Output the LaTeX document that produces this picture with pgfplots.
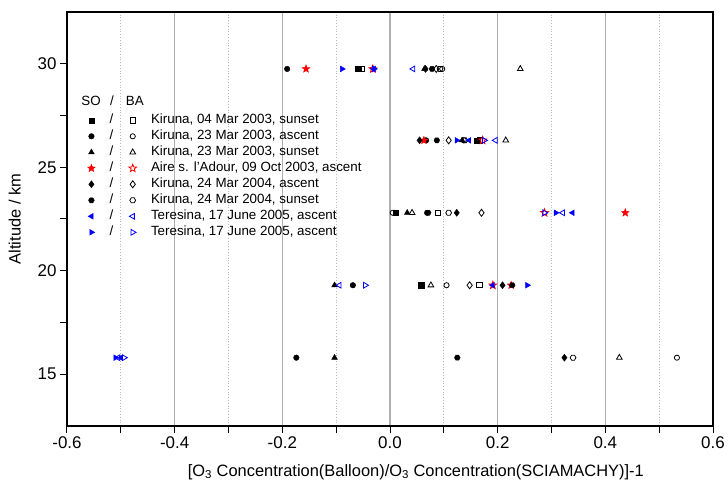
\documentclass[border=0pt]{standalone}
\usepackage{fontspec}
\setmainfont{Liberation Sans}
\usepackage{pgfplots}
\pgfplotsset{compat=1.18}
\usetikzlibrary{plotmarks}

\pgfdeclareplotmark{hexagon*}{%
  \pgfpathmoveto{\pgfpointpolar{0}{\pgfplotmarksize}}%
  \pgfpathlineto{\pgfpointpolar{60}{\pgfplotmarksize}}%
  \pgfpathlineto{\pgfpointpolar{120}{\pgfplotmarksize}}%
  \pgfpathlineto{\pgfpointpolar{180}{\pgfplotmarksize}}%
  \pgfpathlineto{\pgfpointpolar{240}{\pgfplotmarksize}}%
  \pgfpathlineto{\pgfpointpolar{300}{\pgfplotmarksize}}%
  \pgfpathclose\pgfusepathqfillstroke}
\pgfdeclareplotmark{hexagon}{%
  \pgfpathmoveto{\pgfpointpolar{0}{\pgfplotmarksize}}%
  \pgfpathlineto{\pgfpointpolar{60}{\pgfplotmarksize}}%
  \pgfpathlineto{\pgfpointpolar{120}{\pgfplotmarksize}}%
  \pgfpathlineto{\pgfpointpolar{180}{\pgfplotmarksize}}%
  \pgfpathlineto{\pgfpointpolar{240}{\pgfplotmarksize}}%
  \pgfpathlineto{\pgfpointpolar{300}{\pgfplotmarksize}}%
  \pgfpathclose\pgfusepathqstroke}
\newcommand{\starpath}{%
  \pgfpathmoveto{\pgfpointpolar{90}{\pgfplotmarksize}}%
  \pgfpathlineto{\pgfpointpolar{126}{0.42\pgfplotmarksize}}%
  \pgfpathlineto{\pgfpointpolar{162}{\pgfplotmarksize}}%
  \pgfpathlineto{\pgfpointpolar{198}{0.42\pgfplotmarksize}}%
  \pgfpathlineto{\pgfpointpolar{234}{\pgfplotmarksize}}%
  \pgfpathlineto{\pgfpointpolar{270}{0.42\pgfplotmarksize}}%
  \pgfpathlineto{\pgfpointpolar{306}{\pgfplotmarksize}}%
  \pgfpathlineto{\pgfpointpolar{342}{0.42\pgfplotmarksize}}%
  \pgfpathlineto{\pgfpointpolar{18}{\pgfplotmarksize}}%
  \pgfpathlineto{\pgfpointpolar{54}{0.42\pgfplotmarksize}}%
  \pgfpathclose}
\pgfdeclareplotmark{fstar}{\starpath\pgfusepathqfillstroke}
\pgfdeclareplotmark{ostar}{\starpath\pgfusepathqstroke}

\definecolor{majgrid}{RGB}{175,175,175}
\definecolor{mingrid}{RGB}{185,185,185}

\begin{document}
\begin{tikzpicture}
\begin{axis}[
  scale only axis, width=646bp, height=414bp,
  xmin=-0.6, xmax=0.6, ymin=12.5, ymax=32.5,
  xtick={-0.6,-0.4,-0.2,0,0.2,0.4,0.6},
  xticklabels={-0.6,-0.4,-0.2,0.0,0.2,0.4,0.6},
  minor xtick={-0.5,-0.3,-0.1,0.1,0.3,0.5},
  ytick={15,20,25,30}, minor ytick={17.5,22.5,27.5},
  /pgf/number format/assume math mode=true,
  tick align=outside, xtick pos=bottom, ytick pos=left,
  major tick length=7bp, minor tick length=7bp,
  tick style={black, line width=1bp},
  axis line style={line width=1.3bp},
  xmajorgrids, xminorgrids,
  major grid style={majgrid, line width=1.2bp},
  minor grid style={mingrid, line width=0.8bp, dotted},
  ticklabel style={font=\fontsize{17}{19}\selectfont},
  xlabel={[O\textsubscript{3} Concentration(Balloon)/O\textsubscript{3} Concentration(SCIAMACHY)]-1},
  ylabel={Altitude / km},
  label style={font=\fontsize{16.5}{18}\selectfont},
  xlabel style={at={(axis description cs:0.54,0)}, anchor=center, yshift=-46bp},
  ylabel style={at={(axis description cs:-0.081,0.5)}, anchor=center},
  legend columns=2,
  legend cell align=left,
  legend style={at={(0.027,0.763)}, anchor=north west, draw=none, fill=none,
    font=\fontsize{13.4}{15}\selectfont, row sep=0bp,
    nodes={inner sep=1.5bp, text height=10bp, text depth=3bp},
    /tikz/every odd column/.append style={column sep=13bp},
    /tikz/every even column/.append style={column sep=14bp}},
  only marks,
]
% Kiruna 04 Mar 2003 sunset
\addplot[black, mark=square*, mark size=2.6bp] coordinates {(-0.059,29.75) (0.162,26.3) (0.010,22.8) (0.058,19.3)};
\addlegendentry{/}
\addplot[black, mark=square, mark size=2.6bp, mark options={line width=0.8bp}] coordinates {(-0.052,29.75) (0.167,26.3) (0.089,22.8) (0.166,19.3)};
\addlegendentry{Kiruna, 04 Mar 2003, sunset}
% Kiruna 23 Mar 2003 ascent
\addplot[black, mark=*, mark size=2.8bp] coordinates {(-0.191,29.75) (0.067,26.3) (0.069,22.8) (-0.069,19.3) (-0.174,15.8)};
\addlegendentry{/}
\addplot[black, mark=o, mark size=2.6bp, mark options={line width=0.8bp}] coordinates {(0.097,29.75) (0.137,26.3) (0.005,22.8) (0.105,19.3) (0.533,15.8)};
\addlegendentry{Kiruna, 23 Mar 2003, ascent}
% Kiruna 23 Mar 2003 sunset
\addplot[black, mark=triangle*, mark size=3.3bp] coordinates {(0.064,29.75) (0.134,26.3) (0.032,22.8) (-0.103,19.3) (-0.103,15.8)};
\addlegendentry{/}
\addplot[black, mark=triangle, mark size=3.3bp, mark options={line width=0.8bp}] coordinates {(0.242,29.75) (0.215,26.3) (0.041,22.8) (0.076,19.3) (0.426,15.8)};
\addlegendentry{Kiruna, 23 Mar 2003, sunset}
% Aire
\addplot[red, mark=fstar, mark size=4bp, mark options={line width=0.5bp}] coordinates {(-0.156,29.75) (0.063,26.3) (0.437,22.8) (0.225,19.3)};
\addlegendentry{/}
\addplot[red, mark=ostar, mark size=4bp, mark options={line width=0.8bp}] coordinates {(-0.032,29.75) (0.172,26.3) (0.287,22.8) (0.191,19.3)};
\addlegendentry{Aire s. l'Adour, 09 Oct 2003, ascent}
% Kiruna 24 Mar 2004 ascent
\addplot[black, mark=diamond*, mark size=3.5bp] coordinates {(0.066,29.75) (0.055,26.3) (0.124,22.8) (0.209,19.3) (0.324,15.8)};
\addlegendentry{/}
\addplot[black, mark=diamond, mark size=3.5bp, mark options={line width=0.8bp}] coordinates {(0.086,29.75) (0.109,26.3) (0.170,22.8) (0.148,19.3)};
\addlegendentry{Kiruna, 24 Mar 2004, ascent}
% Kiruna 24 Mar 2004 sunset
\addplot[black, mark=hexagon*, mark size=2.9bp] coordinates {(0.078,29.75) (0.087,26.3) (0.071,22.8) (0.227,19.3) (0.125,15.8)};
\addlegendentry{/}
\addplot[black, mark=hexagon, mark size=2.9bp, mark options={line width=0.8bp}] coordinates {(0.093,29.75) (0.139,26.3) (0.109,22.8) (0.340,15.8)};
\addlegendentry{Kiruna, 24 Mar 2004, sunset}
% Teresina left
\addplot[blue, mark=triangle*, mark size=3.3bp, mark options={rotate=90}] coordinates {(-0.030,29.75) (0.147,26.3) (0.339,22.8) (0.191,19.3) (-0.500,15.8)};
\addlegendentry{/}
\addplot[blue, mark=triangle, mark size=3.3bp, mark options={rotate=90, line width=0.8bp}] coordinates {(0.043,29.75) (0.196,26.3) (0.321,22.8) (-0.094,19.3) (-0.505,15.8)};
\addlegendentry{Teresina, 17 June 2005, ascent}
% Teresina right
\addplot[blue, mark=triangle*, mark size=3.3bp, mark options={rotate=-90}] coordinates {(-0.089,29.75) (0.124,26.3) (0.308,22.8) (0.255,19.3) (-0.510,15.8)};
\addlegendentry{/}
\addplot[blue, mark=triangle, mark size=3.3bp, mark options={rotate=-90, line width=0.8bp}] coordinates {(-0.030,29.75) (0.175,26.3) (0.287,22.8) (-0.046,19.3) (-0.494,15.8)};
\addlegendentry{Teresina, 17 June 2005, ascent}

\node[font=\fontsize{13.4}{15}\selectfont, anchor=base] at (axis description cs:0.0372,0.773) {SO};
\node[font=\fontsize{13.4}{15}\selectfont, anchor=base] at (axis description cs:0.0697,0.773) {/};
\node[font=\fontsize{13.4}{15}\selectfont, anchor=base] at (axis description cs:0.105,0.773) {BA};
\end{axis}
\pgfresetboundingbox
\path[use as bounding box] ([shift={(-67bp,-62bp)}]current axis.south west) rectangle ([shift={(15bp,12bp)}]current axis.north east);
\end{tikzpicture}
\end{document}
